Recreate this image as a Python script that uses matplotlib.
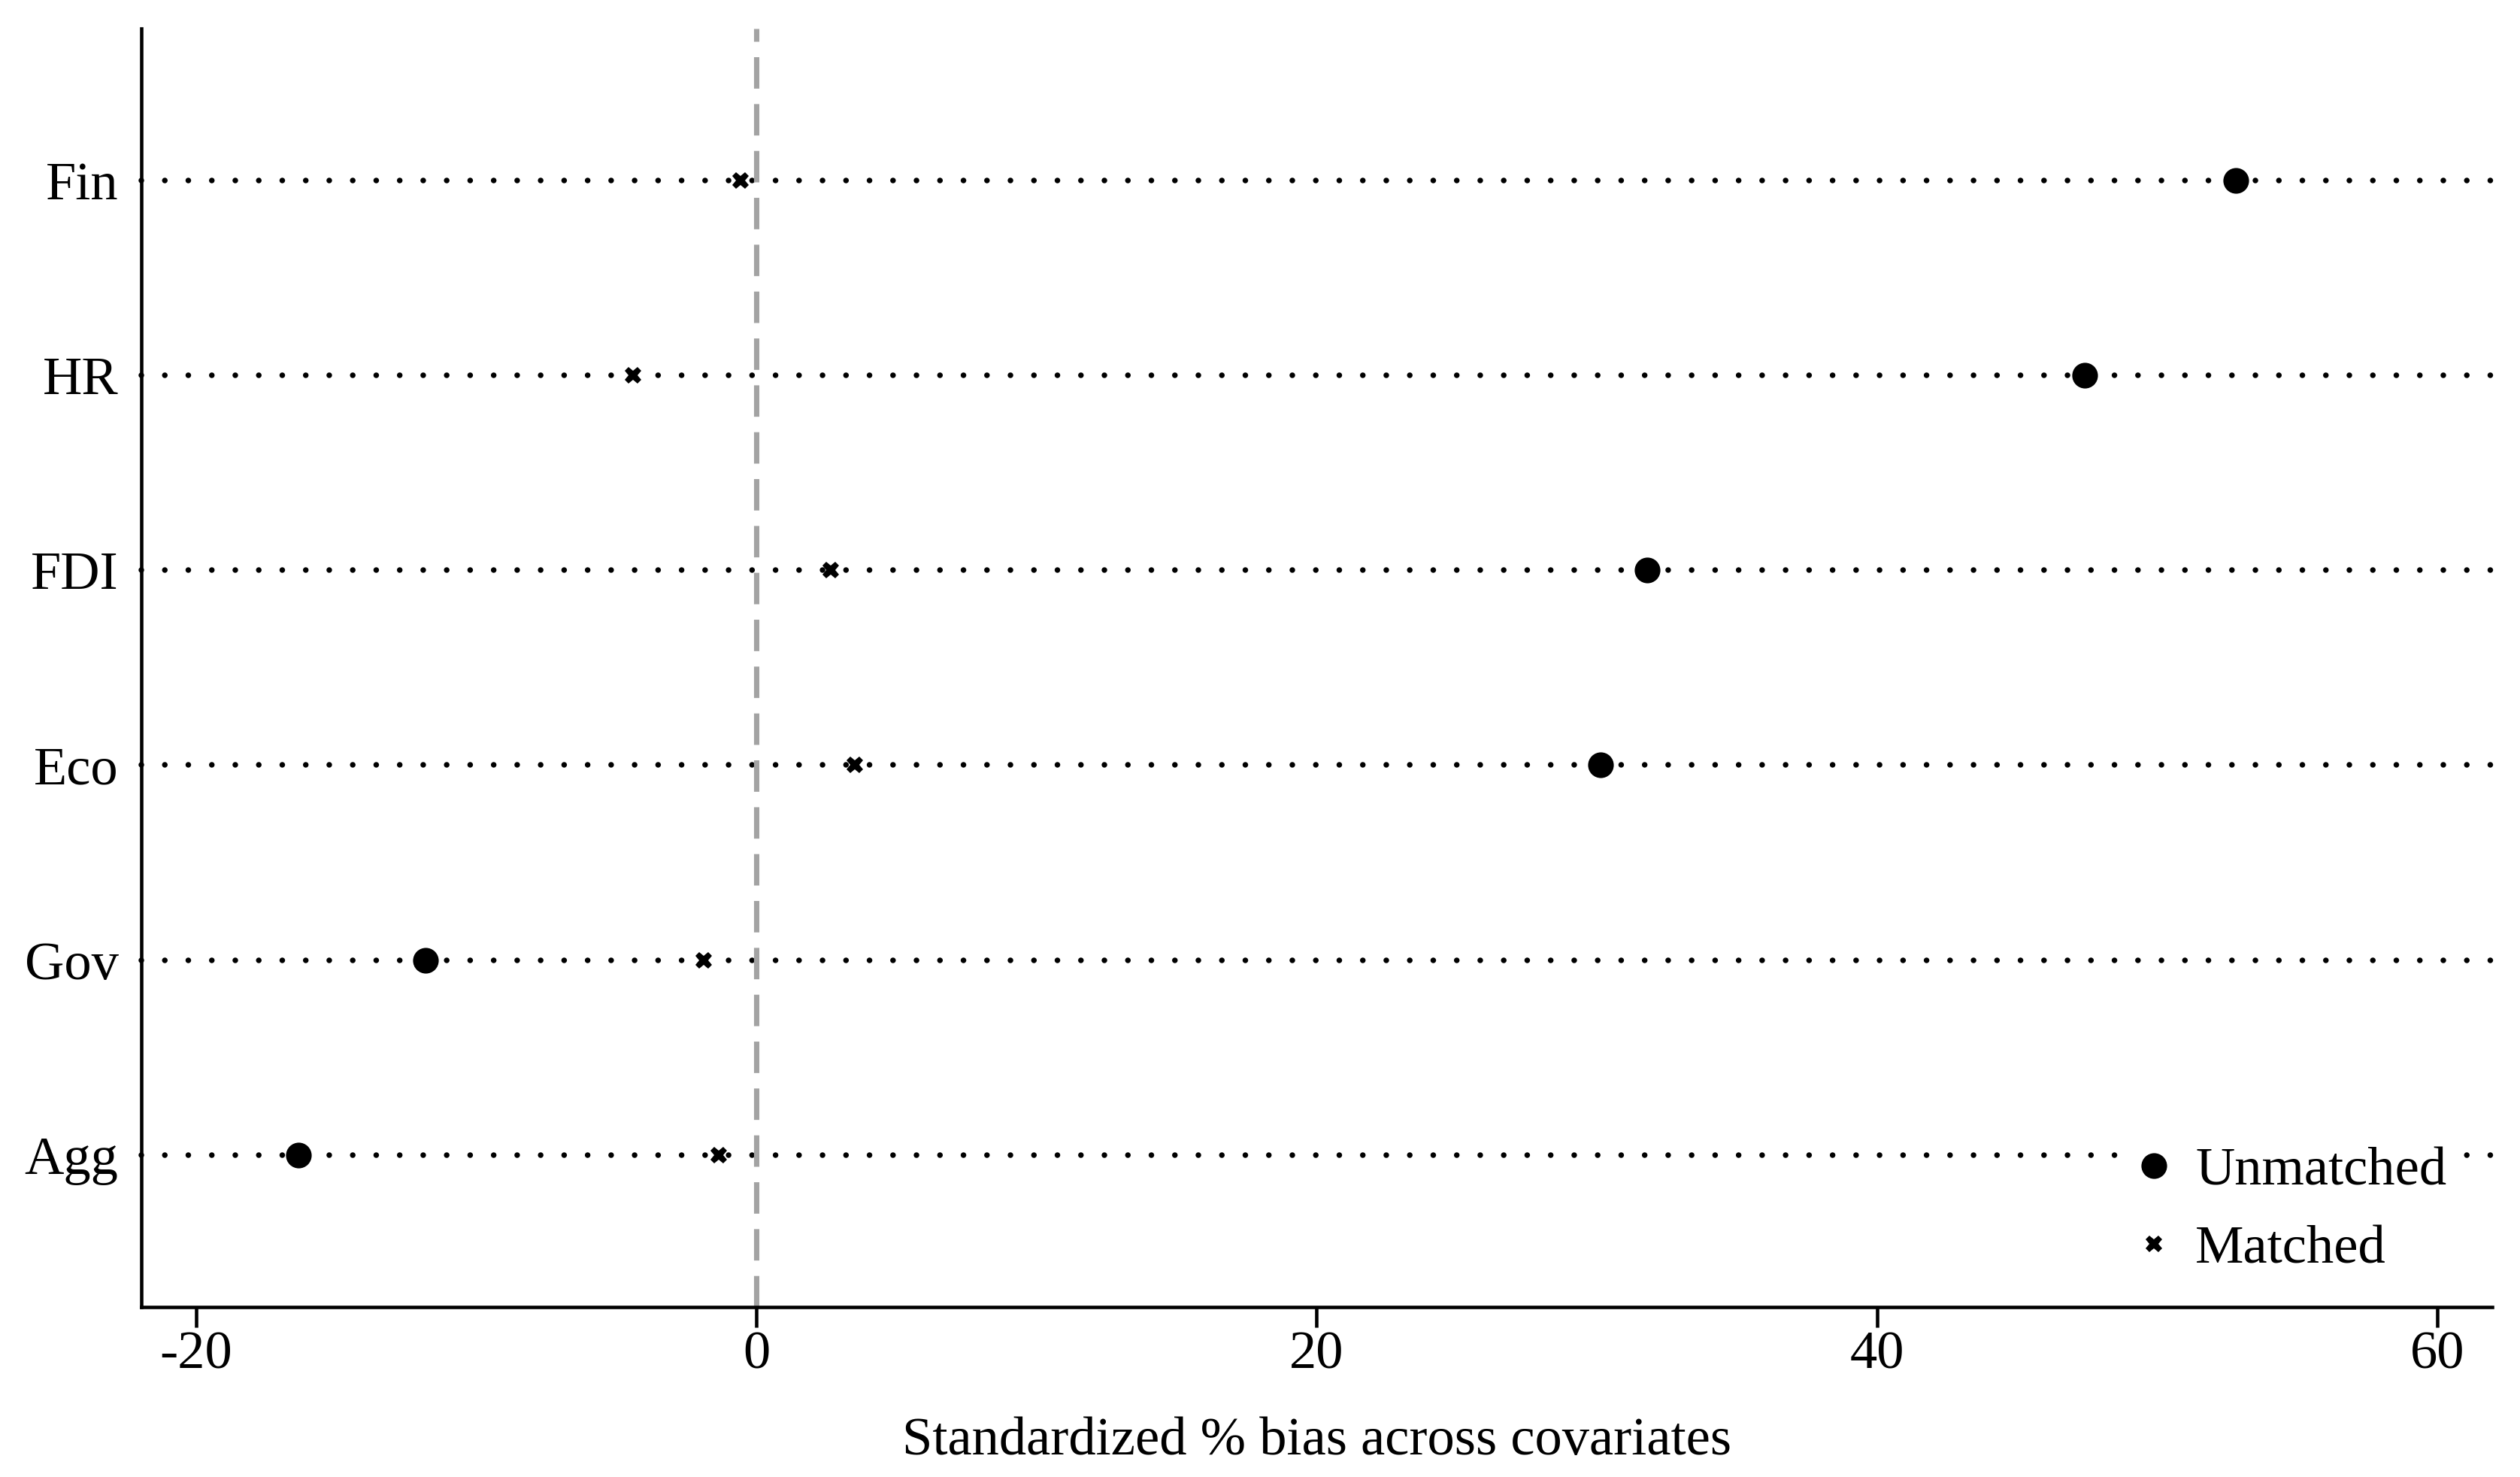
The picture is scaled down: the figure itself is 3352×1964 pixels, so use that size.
import numpy as np
import matplotlib
matplotlib.use("Agg")
import matplotlib.pyplot as plt
from matplotlib.lines import Line2D

plt.rcParams['font.family'] = ['Liberation Serif', 'DejaVu Serif']

# covariates, bottom to top
covariates = ['Agg', 'Gov', 'Eco', 'FDI', 'HR', 'Fin']
unmatched = [-16.34, -11.8, 30.14, 31.8, 47.4, 52.8]
matched = [-1.34, -1.88, 3.52, 2.66, -4.39, -0.55]
xticks = [-20, 0, 20, 40, 60]

fig = plt.figure(figsize=(3352 / 300, 1964 / 300), dpi=300)
ax = fig.add_axes([187.5 / 3352, 1 - 1738 / 1964, (3315 - 187.5) / 3352, (1738 - 37.5) / 1964])

ypos = np.arange(1, len(covariates) + 1)

# dotted guide lines
for y in ypos:
    ax.axhline(y, color='black', lw=1.8, linestyle=(0, (0.001, 4.165)),
               dash_capstyle='round', zorder=1, clip_on=False)

# reference line at zero
ax.axvline(0, color='#a3a3a3', lw=1.7, linestyle=(0, (5.9, 2.9)), zorder=2)

ax.plot(unmatched, ypos, 'o', color='black', markersize=7.2, linestyle='none', zorder=3)
ax.plot(matched, ypos, 'X', color='black', markersize=5.5, markeredgewidth=0,
        linestyle='none', zorder=3)

ax.set_xlim(-21.96, 61.95)
ax.set_ylim(0.22, 6.78)
ax.set_xticks(xticks)
ax.set_xticklabels([str(t) for t in xticks])
ax.set_yticks(ypos)
ax.set_yticklabels(covariates)

for s in ['top', 'right']:
    ax.spines[s].set_visible(False)
for s in ['left', 'bottom']:
    ax.spines[s].set_linewidth(1.1)

ax.tick_params(axis='x', length=6.5, width=1.1, pad=1, labelsize=17.4)
ax.tick_params(axis='y', length=0, pad=7.2, labelsize=17.4)
ax.set_xlabel('Standardized % bias across covariates', fontsize=17.4, labelpad=12)

handles = [
    Line2D([], [], marker='o', color='black', markersize=7.2, linestyle='none'),
    Line2D([], [], marker='X', color='black', markersize=5.5, markeredgewidth=0, linestyle='none'),
]
leg = fig.legend(handles, ['Unmatched', 'Matched'], loc='upper left',
                 bbox_to_anchor=(2818 / 3352, 1 - 1514 / 1964),
                 frameon=True, fancybox=False, facecolor='white', edgecolor='none',
                 framealpha=1, fontsize=17.4, handlelength=1.0, handletextpad=0.26,
                 borderpad=0.15, borderaxespad=0, labelspacing=0.52)

fig.savefig('out.png', dpi=300)
